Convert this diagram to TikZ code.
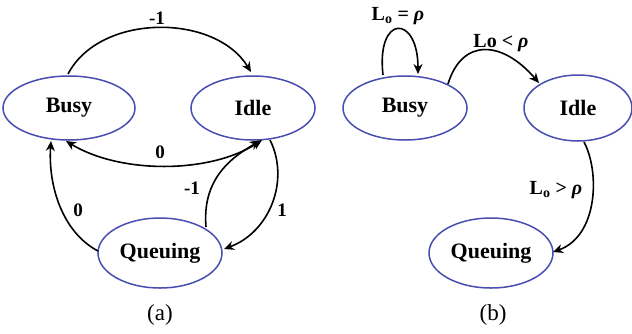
\documentclass[tikz,border=0pt]{standalone}
\usepackage{fontspec}
\setmainfont{Liberation Serif}
\usetikzlibrary{arrows.meta,shapes.geometric}
\definecolor{stateblue}{RGB}{72,78,176}

\tikzset{
  state/.style={ellipse,draw=stateblue,line width=1.5pt,inner sep=0pt,
    font=\fontsize{22}{26}\selectfont\bfseries},
  trans/.style={line width=1.6pt,-{Stealth[length=10pt,width=9pt]}},
  tlabel/.style={font=\fontsize{19}{22}\selectfont\bfseries},
}

\begin{document}
\begin{tikzpicture}[x=1pt,y=-1pt]
  \useasboundingbox (0,0) rectangle (632,333);
  % (a)
  \node[state,minimum width=132pt,minimum height=64pt] (busyA) at (69,108) {Busy};
  \node[state,minimum width=124pt,minimum height=64pt] (idleA) at (253,108) {Idle};
  \node[state,minimum width=124pt,minimum height=70pt] (queA) at (160,253) {Queuing};
  \coordinate (a1) at (68,74);
  \coordinate (a2) at (251,72);
  \draw[trans] (a1) .. controls (100,13) and (215,13) .. (a2);
  \coordinate (a3) at (262,140);
  \coordinate (a4) at (66,141);
  \draw[trans,{Stealth[length=10pt,width=9pt]}-{Stealth[length=10pt,width=9pt]}] (a3) .. controls (210,174) and (120,174) .. (a4);
  \coordinate (a5) at (98,251);
  \coordinate (a6) at (51,141);
  \draw[trans] (a5) .. controls (62,232) and (48,185) .. (a6);
  \coordinate (a7) at (206,227);
  \coordinate (a8) at (260,141);
  \draw[trans] (a7) .. controls (202,180) and (230,158) .. (a8);
  \coordinate (a9) at (270,140);
  \coordinate (a10) at (224,249);
  \draw[trans] (a9) .. controls (290,180) and (270,232) .. (a10);
  \node[tlabel] (la1) at (157,18) {-1};
  \node[tlabel] (la2) at (160,152) {0};
  \node[tlabel] (la3) at (78,210) {0};
  \node[tlabel] (la4) at (192,188) {-1};
  \node[tlabel] (la5) at (282,210) {1};
  \node[font=\fontsize{23}{26}\selectfont] (capA) at (160,315) {(a)};
  % (b)
  \node[state,minimum width=124pt,minimum height=64pt] (busyB) at (405,108) {Busy};
  \node[state,minimum width=108pt,minimum height=66pt] (idleB) at (578,108) {Idle};
  \node[state,minimum width=124pt,minimum height=70pt] (queB) at (491,253) {Queuing};
  \coordinate (b1) at (383,75);
  \coordinate (b2) at (418,74);
  \draw[trans] (b1) .. controls (376,14) and (418,14) .. (b2);
  \coordinate (b3) at (448,84);
  \coordinate (b4) at (539,83);
  \draw[trans] (b3) .. controls (462,38) and (502,40) .. (b4);
  \coordinate (b5) at (584,142);
  \coordinate (b6) at (553,252);
  \draw[trans] (b5) .. controls (600,172) and (598,236) .. (b6);
  \node[tlabel,font=\fontsize{20}{22}\selectfont\bfseries] (lb1) at (398,16) {L\textsubscript{o} = \itshape ρ};
  \node[tlabel,font=\fontsize{20}{22}\selectfont\bfseries] (lb2) at (501,43) {Lo < \itshape ρ};
  \node[tlabel,font=\fontsize{20}{22}\selectfont\bfseries] (lb3) at (556,190) {L\textsubscript{o} > \itshape ρ};
  \node[font=\fontsize{23}{26}\selectfont] (capB) at (493,315) {(b)};
\end{tikzpicture}
\end{document}
